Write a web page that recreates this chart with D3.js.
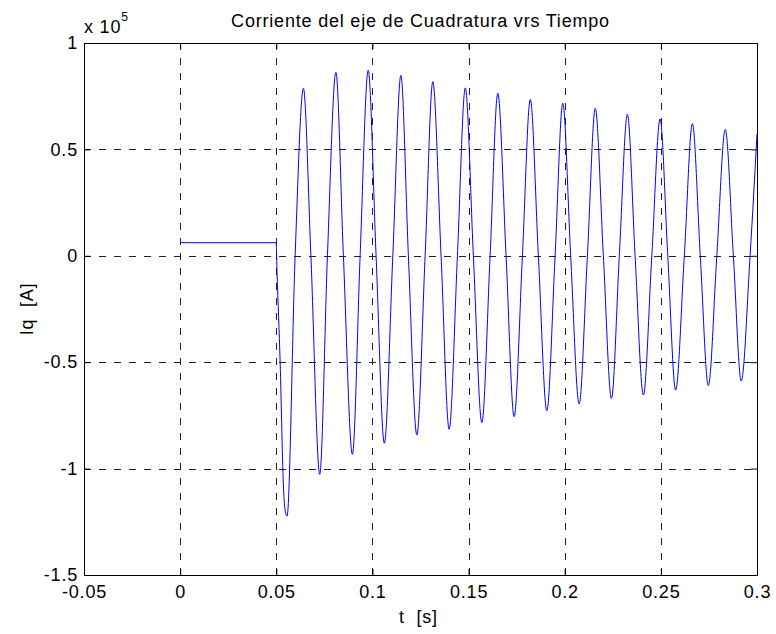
<!DOCTYPE html>
<html lang="es">
  <head>
    <meta charset="UTF-8" />
    <title>Corriente del eje de Cuadratura vrs Tiempo</title>
    <script src="https://d3js.org/d3.v7.min.js"></script>
    <style>
      body {
        margin: 0;
        background: #fff;
      }
      svg {
        font-family: "Liberation Sans", Arial, sans-serif;
        letter-spacing: 0.8px;
      }
      .tick text {
        font-size: 18px;
        fill: #000;
      }
      .grid line {
        stroke: #222;
        stroke-dasharray: 7, 8;
      }
    </style>
  </head>
  <body>
    <svg width="776" height="634"></svg>

    <script>
      // time [s] and Iq in units of 1e5 A
      const timeS = [
        0, 0.0499, 0.0504, 0.0520, 0.0538, 0.0547, 0.0556, 0.0598, 0.0641, 0.0680,
        0.0726, 0.0766, 0.0810, 0.0849, 0.0896, 0.0936, 0.0978, 0.1019, 0.1062, 0.1106,
        0.1148, 0.1187, 0.1231, 0.1274, 0.1314, 0.1357, 0.1399, 0.1442, 0.1483, 0.1525,
        0.1569, 0.1612, 0.1652, 0.1695, 0.1737, 0.1780, 0.1821, 0.1863, 0.1907, 0.1950,
        0.1990, 0.2031, 0.2075, 0.2118, 0.2159, 0.2201, 0.2243, 0.2284, 0.2326, 0.2366,
        0.2409, 0.2453, 0.2496, 0.2536, 0.2577, 0.2622, 0.2664, 0.2705, 0.2747, 0.2791,
        0.2835, 0.2877, 0.2918, 0.2964, 0.3000
      ];
      const iqE5 = [
        0.0616, 0.0616, -0.08, -0.50, -1.10, -1.20, -1.223, 0, 0.787, 0,
        -1.027, 0, 0.862, 0, -0.933, 0, 0.872, 0, -0.881, 0,
        0.848, 0, -0.842, 0, 0.818, 0, -0.815, 0, 0.789, 0,
        -0.784, 0, 0.764, 0, -0.756, 0, 0.735, 0, -0.728, 0,
        0.717, 0, -0.696, 0, 0.693, 0, -0.671, 0, 0.665, 0,
        -0.654, 0, 0.643, 0, -0.631, 0, 0.621, 0, -0.610, 0,
        0.594, 0, -0.588, 0, 0.571
      ];

      const xTicks = [-0.05, 0, 0.05, 0.1, 0.15, 0.2, 0.25, 0.3];
      const xTickLabels = ["-0.05", "0", "0.05", "0.1", "0.15", "0.2", "0.25", "0.3"];
      const yTicks = [-1.5, -1, -0.5, 0, 0.5, 1];
      const yTickLabels = ["-1.5", "-1", "-0.5", "0", "0.5", "1"];

      const svg = d3.select("svg");
      const margin = { top: 43, right: 19, bottom: 59, left: 84 };
      const width = 776 - margin.left - margin.right;
      const height = 634 - margin.top - margin.bottom;

      const g = svg.append("g")
        .attr("transform", `translate(${margin.left},${margin.top})`);

      const x = d3.scaleLinear().domain([-0.05, 0.3]).range([0, width]);
      const y = d3.scaleLinear().domain([-1.5, 1]).range([height, 0]);

      // dashed grid
      const grid = g.append("g").attr("class", "grid");
      grid.selectAll(".vx")
        .data(xTicks.slice(1, -1))
        .join("line")
        .attr("x1", d => Math.round(x(d)) + 0.5)
        .attr("x2", d => Math.round(x(d)) + 0.5)
        .attr("y1", 0)
        .attr("y2", height);
      grid.selectAll(".hy")
        .data(yTicks.slice(1, -1))
        .join("line")
        .attr("y1", d => Math.round(y(d)) + 0.5)
        .attr("y2", d => Math.round(y(d)) + 0.5)
        .attr("x1", 0)
        .attr("x2", width);

      // data line
      const line = d3.line()
        .x((d, i) => x(timeS[i]))
        .y(d => y(d))
        .curve(d3.curveMonotoneX);

      g.append("path")
        .datum(iqE5)
        .attr("fill", "none")
        .attr("stroke", "#0000ff")
        .attr("stroke-width", 1)
        .attr("d", line);

      // axes with inward ticks on all sides
      const fmtX = d => xTickLabels[xTicks.indexOf(d)];
      const fmtY = d => yTickLabels[yTicks.indexOf(d)];

      const axB = g.append("g")
        .attr("transform", `translate(0,${height})`)
        .call(d3.axisBottom(x).tickValues(xTicks).tickFormat(fmtX)
          .tickSize(-6).tickPadding(10));
      const axT = g.append("g")
        .call(d3.axisTop(x).tickValues(xTicks).tickFormat("").tickSize(-6));
      const axL = g.append("g")
        .call(d3.axisLeft(y).tickValues(yTicks).tickFormat(fmtY)
          .tickSize(-6).tickPadding(6));
      const axR = g.append("g")
        .attr("transform", `translate(${width},0)`)
        .call(d3.axisRight(y).tickValues(yTicks).tickFormat("").tickSize(-6));

      [axB, axT, axL, axR].forEach(a => {
        a.select(".domain").attr("stroke", "#000");
        a.selectAll(".tick line").attr("stroke", "#000");
      });

      // title, labels, exponent
      svg.append("text")
        .attr("x", margin.left + width / 2)
        .attr("y", 27)
        .attr("text-anchor", "middle")
        .style("font-size", "18px")
        .text("Corriente del eje de Cuadratura vrs Tiempo");

      svg.append("text")
        .attr("x", margin.left + width / 2 - 2)
        .attr("y", 623)
        .attr("text-anchor", "middle")
        .style("font-size", "18px")
        .attr("xml:space", "preserve")
        .text("t  [s]");

      svg.append("text")
        .attr("transform", `translate(33,${margin.top + height / 2}) rotate(-90)`)
        .attr("text-anchor", "middle")
        .style("font-size", "18px")
        .attr("xml:space", "preserve")
        .text("Iq  [A]");

      const expo = svg.append("text")
        .attr("x", 84)
        .attr("y", 33)
        .style("font-size", "18px");
      expo.append("tspan").text("x 10");
      expo.append("tspan")
        .attr("dy", -12)
        .style("font-size", "12px")
        .text("5");
    </script>
  </body>
</html>
